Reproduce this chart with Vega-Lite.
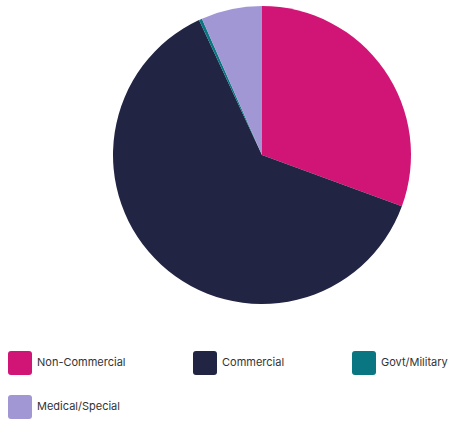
{
  "$schema": "https://vega.github.io/schema/vega-lite/v6.json",
  "width": 378,
  "height": 298,
  "autosize": {"type": "none"},
  "padding": {"left": 73, "top": 6, "right": 0, "bottom": 117},
  "background": "#ffffff",
  "data": {
    "values": [
      {"category": "Non-Commercial", "share": 30.6, "rank": 1},
      {"category": "Commercial", "share": 62.45, "rank": 2},
      {"category": "Govt/Military", "share": 0.35, "rank": 3},
      {"category": "Medical/Special", "share": 6.6, "rank": 4}
    ]
  },
  "mark": {"type": "arc", "outerRadius": 149, "strokeWidth": 0},
  "encoding": {
    "theta": {"field": "share", "type": "quantitative", "stack": true},
    "order": {"field": "rank", "type": "quantitative", "sort": "ascending"},
    "color": {
      "field": "category",
      "type": "nominal",
      "scale": {
        "domain": ["Non-Commercial", "Commercial", "Govt/Military", "Medical/Special"],
        "range": ["#D11577", "#212442", "#0A7681", "#A197D4"]
      },
      "legend": {
        "title": null,
        "orient": "none",
        "direction": "horizontal",
        "legendX": -65,
        "legendY": 345,
        "columns": 3,
        "columnPadding": 67,
        "rowPadding": 20,
        "padding": 0,
        "symbolType": "M -0.75 -1 H 0.75 Q 1 -1 1 -0.75 V 0.75 Q 1 1 0.75 1 H -0.75 Q -1 1 -1 0.75 V -0.75 Q -1 -1 -0.75 -1 Z",
        "symbolSize": 576,
        "symbolStrokeWidth": 0,
        "symbolOpacity": 1,
        "labelOffset": 5,
        "labelFont": "Inter",
        "labelFontSize": 11,
        "labelColor": "#333333",
        "labelLimit": 300
      }
    }
  },
  "config": {"view": {"stroke": null}}
}
